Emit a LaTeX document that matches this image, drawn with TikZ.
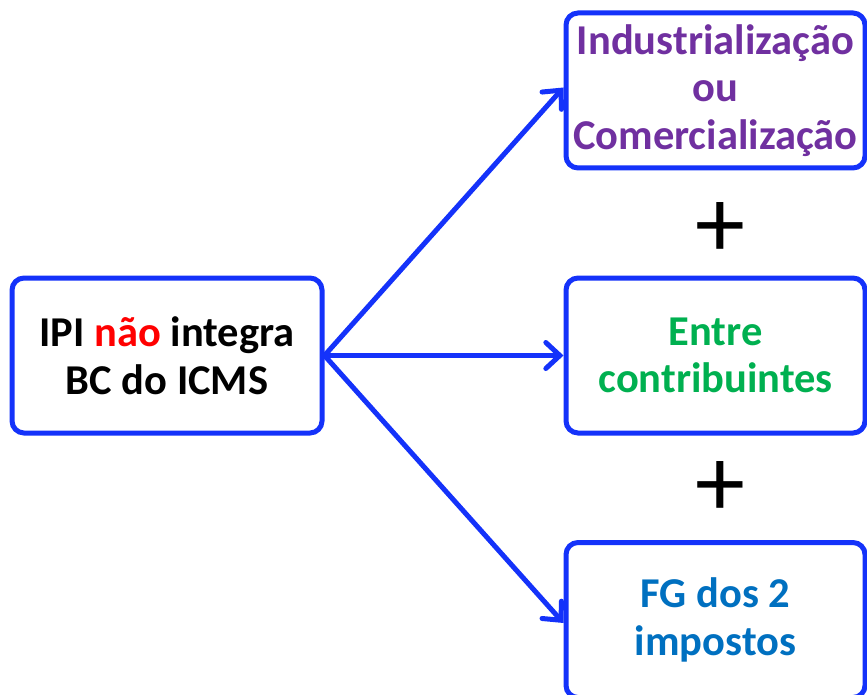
\documentclass[tikz,border=0pt]{standalone}
\usepackage{fontspec}
\setmainfont{Carlito}
\usetikzlibrary{arrows.meta}
\definecolor{boxblue}{RGB}{20,50,250}
\definecolor{txtpurple}{RGB}{112,48,160}
\definecolor{txtgreen}{RGB}{0,176,80}
\definecolor{txtblue}{RGB}{0,112,192}
\definecolor{txtred}{RGB}{255,0,0}
\tikzset{
  box/.style={draw=boxblue, line width=5pt, rounded corners=12pt, fill=white,
    align=center, inner sep=0pt, font=\fontsize{42.5pt}{47.5pt}\selectfont\bfseries},
  conn/.style={draw=boxblue, line width=5pt, line cap=round,
    -{Straight Barb[length=14pt,width=26pt,line width=5pt,line cap=round]}},
  plussign/.style={font=\fontsize{100pt}{100pt}\selectfont, inner sep=0pt}
}
\begin{document}
\begin{tikzpicture}[x=1pt,y=-1pt]
\useasboundingbox (0,0) rectangle (867,695);
\node[box, minimum width=310pt, minimum height=155pt] (src) at (167,355.5)
  {IPI \textcolor{txtred}{não} integra\\BC do ICMS};
\node[box, minimum width=299pt, minimum height=155pt, text=txtpurple] (ind) at (715.5,90.5)
  {Industrialização\\ou\\Comercialização};
\node[box, minimum width=299pt, minimum height=155pt, text=txtgreen] (ent) at (715.5,355.5)
  {Entre\\contribuintes};
\node[box, minimum width=299pt, minimum height=155pt, text=txtblue] (fg) at (715.5,620)
  {FG dos 2\\impostos};
\node[plussign] (p1) at (720,230) {+};
\node[plussign] (p2) at (720,489) {+};
\draw[conn] (src.east) -- ([yshift=3pt]ind.west);
\draw[conn] (src.east) -- (ent.west);
\draw[conn] (src.east) -- ([yshift=-3pt]fg.west);
\end{tikzpicture}
\end{document}
